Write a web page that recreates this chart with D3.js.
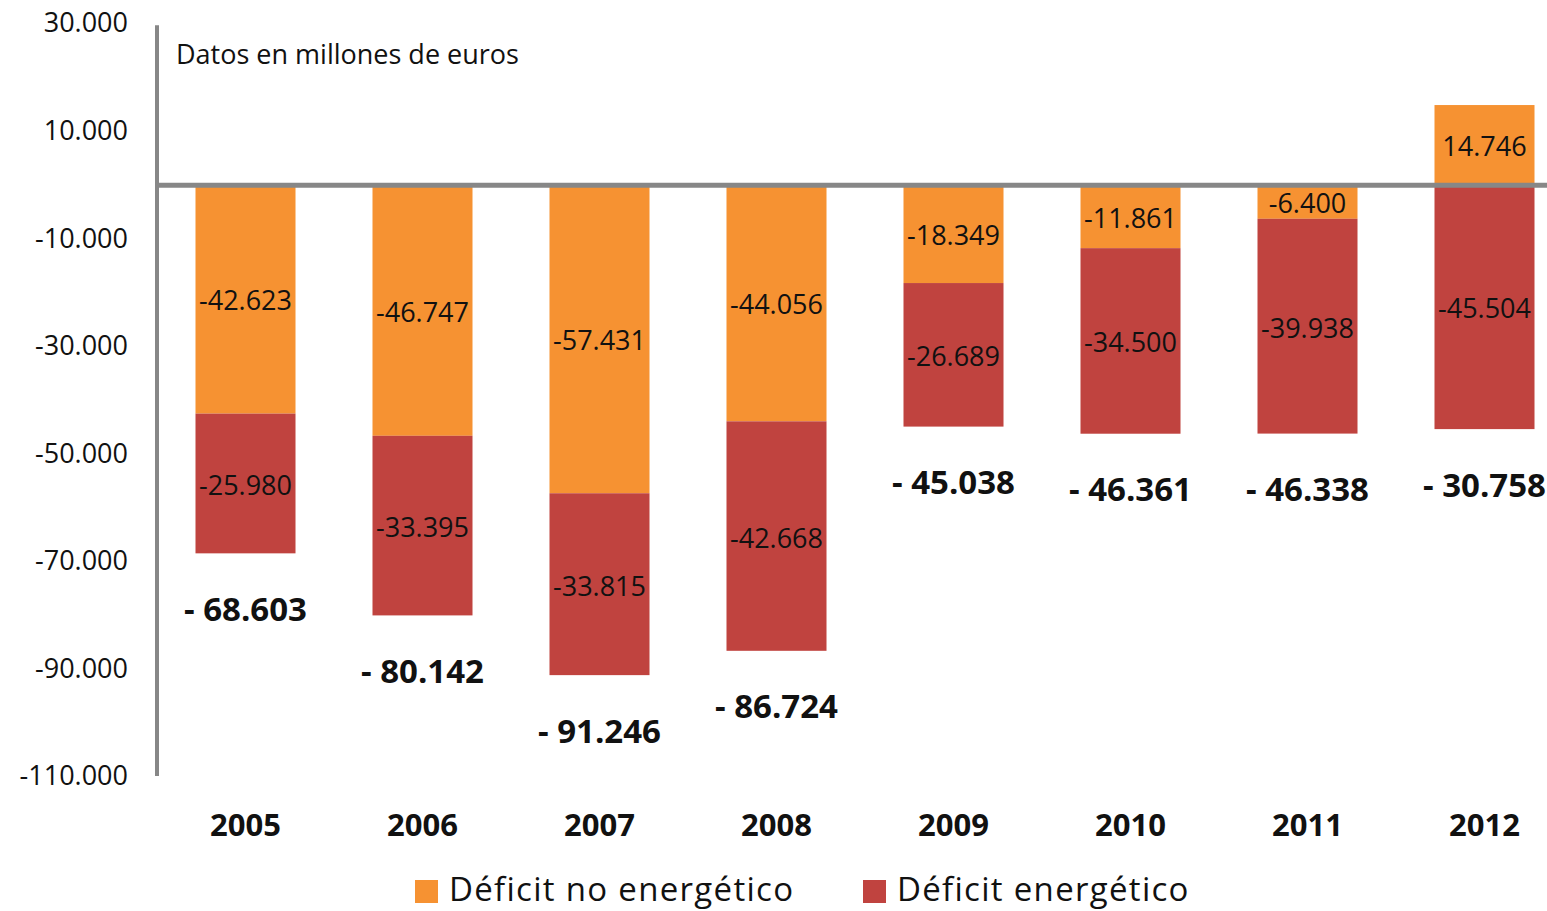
<!DOCTYPE html>
<html><head><meta charset="utf-8">
<script src="https://cdn.jsdelivr.net/npm/d3@7"></script>
<style>
html,body{margin:0;padding:0;background:#fff;overflow:hidden}
text{font-family:"Open Sans",Lato,sans-serif;fill:#111}
</style></head>
<body>
<svg id="chart" width="1547" height="911"></svg>
<script>
const years = ["2005","2006","2007","2008","2009","2010","2011","2012"];
const noEnergetico = [-42623,-46747,-57431,-44056,-18349,-11861,-6400,14746];
const energetico = [-25980,-33395,-33815,-42668,-26689,-34500,-39938,-45504];
const totales = [-68603,-80142,-91246,-86724,-45038,-46361,-46338,-30758];
const yTicks = [30000,10000,-10000,-30000,-50000,-70000,-90000,-110000];
const seriesNames = ["Déficit no energético","Déficit energético"];
const colors = ["#F69232","#C0433F"];

const svg = d3.select("#chart");
const fmt = v => d3.format(",")(v).replace(/,/g,".").replace(/\u2212/g,"-");
const x = d3.scaleBand().domain(years).range([157,1573]).paddingInner(0.435).paddingOuter(0.2175);
const y = d3.scaleLinear().domain([-110000,30000]).range([776,23]);

// y tick labels
svg.append("g").selectAll("text").data(yTicks).join("text")
  .attr("x",128).attr("y",d=>y(d)).attr("dy","0.35em")
  .attr("text-anchor","end").style("font-size","27px")
  .text(d=>fmt(d));

// bars
const rows = years.map((yr,i)=>({yr, a:noEnergetico[i], b:energetico[i], t:totales[i]}));
const g = svg.append("g");
rows.forEach(r=>{
  const a0 = 0, a1 = r.a;
  const b0 = r.a < 0 ? r.a : 0, b1 = b0 + r.b;
  g.append("rect").attr("x",x(r.yr)).attr("width",x.bandwidth())
    .attr("y",y(Math.max(a0,a1))).attr("height",Math.abs(y(a0)-y(a1)))
    .attr("fill",colors[0]);
  g.append("rect").attr("x",x(r.yr)).attr("width",x.bandwidth())
    .attr("y",y(Math.max(b0,b1))).attr("height",Math.abs(y(b0)-y(b1)))
    .attr("fill",colors[1]);
  const cx = x(r.yr)+x.bandwidth()/2;
  g.append("text").attr("x",cx).attr("y",(y(a0)+y(a1))/2+2).attr("dy","0.35em")
    .attr("text-anchor","middle").style("font-size","27px").text(fmt(r.a));
  g.append("text").attr("x",cx).attr("y",(y(b0)+y(b1))/2+2).attr("dy","0.35em")
    .attr("text-anchor","middle").style("font-size","27px").text(fmt(r.b));
  g.append("text").attr("x",cx).attr("y",y(Math.min(b1,a1))+56).attr("dy","0.35em")
    .attr("text-anchor","middle").style("font-size","33px").style("font-weight","bold")
    .text("- "+fmt(-r.t));
});

// axis lines
svg.append("line").attr("x1",157).attr("x2",157).attr("y1",y(29600)).attr("y2",y(-110000))
  .attr("stroke","#878787").attr("stroke-width",4);
svg.append("line").attr("x1",155).attr("x2",1547).attr("y1",y(0)+1).attr("y2",y(0)+1)
  .attr("stroke","#878787").attr("stroke-width",5);

// year labels
svg.append("g").selectAll("text").data(years).join("text")
  .attr("x",d=>x(d)+x.bandwidth()/2).attr("y",825).attr("dy","0.35em")
  .attr("text-anchor","middle").style("font-size","31px").style("font-weight","bold")
  .text(d=>d);

// note
svg.append("text").attr("x",176).attr("y",55).attr("dy","0.35em")
  .style("font-size","27px").text("Datos en millones de euros");

// legend
const legX = [415,863];
seriesNames.forEach((n,i)=>{
  svg.append("rect").attr("x",legX[i]).attr("y",880).attr("width",23).attr("height",23).attr("fill",colors[i]);
  svg.append("text").attr("x",legX[i]+34).attr("y",889).attr("dy","0.35em")
    .style("font-size","33px").style("letter-spacing","1.3px").text(n);
});
</script>
</body></html>
